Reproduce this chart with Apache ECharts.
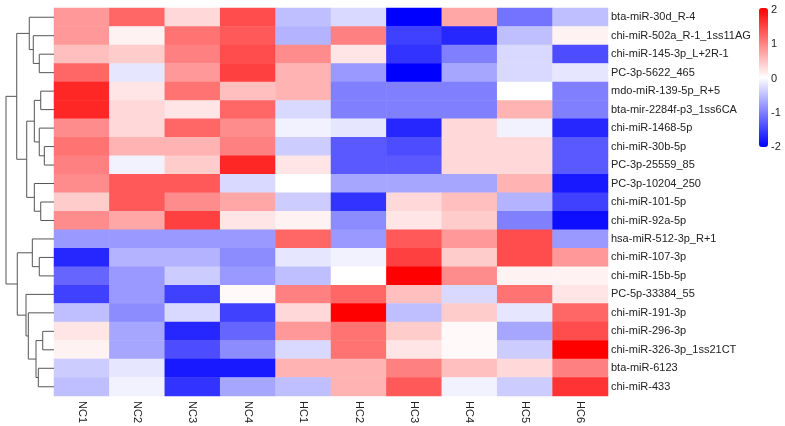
<!DOCTYPE html>
<html>
<head>
<meta charset="utf-8">
<script src="https://cdn.jsdelivr.net/npm/echarts@6/dist/echarts.min.js"></script>
<style>
  html, body { margin: 0; padding: 0; background: #fff; }
  #main { width: 785px; height: 426px; }
</style>
</head>
<body>
<div id="main"></div>
<script>
// samples (columns)
var samples = ['NC1', 'NC2', 'NC3', 'NC4', 'HC1', 'HC2', 'HC3', 'HC4', 'HC5', 'HC6'];

// miRNAs (rows, in dendrogram order, top to bottom)
var mirnas = [
    'bta-miR-30d_R-4', 'chi-miR-502a_R-1_1ss11AG', 'chi-miR-145-3p_L+2R-1', 'PC-3p-5622_465',
    'mdo-miR-139-5p_R+5', 'bta-mir-2284f-p3_1ss6CA', 'chi-miR-1468-5p', 'chi-miR-30b-5p',
    'PC-3p-25559_85', 'PC-3p-10204_250', 'chi-miR-101-5p', 'chi-miR-92a-5p',
    'hsa-miR-512-3p_R+1', 'chi-miR-107-3p', 'chi-miR-15b-5p', 'PC-5p-33384_55',
    'chi-miR-191-3p', 'chi-miR-296-3p', 'chi-miR-326-3p_1ss21CT', 'bta-miR-6123', 'chi-miR-433'
];

// row-scaled expression (z-score), one row per miRNA
var zscores = [
    [ 0.8,  1.2,  0.3,  1.4, -0.5, -0.3, -2.0,  0.7, -1.1, -0.5],
    [ 0.8,  0.1,  1.1,  1.3, -0.6,  1.0, -1.5, -1.7, -0.5,  0.1],
    [ 0.5,  0.4,  1.0,  1.4,  0.9,  0.2, -1.6, -1.0, -0.3, -1.4],
    [ 1.2, -0.2,  0.8,  1.5,  0.6, -0.8, -2.0, -0.7, -0.3, -0.2],
    [ 1.7,  0.2,  1.1,  0.5,  0.6, -1.0, -1.0, -1.0,  0.0, -1.0],
    [ 1.7,  0.3,  0.2,  1.2, -0.3, -1.0, -1.0, -1.0,  0.6, -1.0],
    [ 0.9,  0.3,  1.2,  0.9, -0.1, -0.2, -1.7,  0.3, -0.1, -1.7],
    [ 1.1,  0.6,  0.6,  1.0, -0.4, -1.3, -1.4,  0.3,  0.3, -1.3],
    [ 1.0, -0.1,  0.4,  1.7,  0.2, -1.3, -1.3,  0.3,  0.3, -1.3],
    [ 0.9,  1.3,  1.3, -0.3,  0.0, -0.7, -0.7, -0.7,  0.6, -1.8],
    [ 0.4,  1.3,  0.9,  0.7, -0.4, -1.6,  0.3,  0.5, -0.6, -1.5],
    [ 0.9,  0.7,  1.5,  0.2,  0.1, -0.9,  0.2,  0.4, -1.0, -1.9],
    [-0.8, -0.8, -0.8, -0.8,  1.2, -0.8,  1.3,  0.8,  1.4, -0.8],
    [-1.7, -0.6, -0.6, -0.9, -0.2, -0.1,  1.5,  0.4,  1.4,  0.8],
    [-1.2, -0.8, -0.4, -0.8, -0.5,  0.0,  2.0,  0.9,  0.1,  0.1],
    [-1.5, -0.8, -1.5,  0.05, 1.0,  1.2,  0.5, -0.3,  1.1,  0.2],
    [-0.5, -0.9, -0.3, -1.5,  0.3,  2.0, -0.5,  0.4, -0.2,  1.2],
    [ 0.2, -0.7, -1.7, -1.2,  0.8,  1.1,  0.4,  0.05, -0.7, 1.4],
    [ 0.1, -0.7, -1.4, -0.9, -0.3,  1.1,  0.2,  0.05, -0.4, 2.0],
    [-0.4, -0.2, -1.8, -1.8,  0.6,  0.6,  1.0,  0.5,  0.3,  1.0],
    [-0.5, -0.1, -1.6, -0.7, -0.5,  0.6,  1.3, -0.1, -0.4,  1.6]
];

// row clustering, hclust style: negative = leaf (1-based row), positive = earlier merge
var merges = [
    [-3, -4, 1.84], [-2, 1, 2.59], [-1, 2, 3.09],
    [-5, -6, 1.66], [-8, -9, 1.21], [-7, 5, 1.84], [4, 6, 2.46],
    [-11, -12, 1.66], [-10, 8, 2.46], [7, 9, 3.41], [3, 10, 4.66],
    [-14, -15, 1.84], [-13, 12, 2.71],
    [-18, -19, 1.41], [-20, -21, 1.96], [14, 15, 2.25], [-17, 16, 3.21], [-16, 17, 3.5],
    [13, 18, 4.59], [11, 19, 6.0]
];

// colour key ticks
var keyTicks = [-2, -1, 0, 1, 2];

// heatmap data
var heatData = [];
for (var r = 0; r < zscores.length; r++) {
    for (var c = 0; c < samples.length; c++) {
        heatData.push([c, r, zscores[r][c]]);
    }
}

// dendrogram segments
var nodes = [];
function nodePos(id) {
    if (id < 0) return [0, -id - 1 + 0.5];
    return nodes[id - 1];
}
var dendroLines = [];
merges.forEach(function (m) {
    var a = nodePos(m[0]), b = nodePos(m[1]), h = m[2];
    dendroLines.push({ coords: [[a[0], a[1]], [h, a[1]], [h, b[1]], [b[0], b[1]]] });
    nodes.push([h, (a[1] + b[1]) / 2]);
});

var labelFont = 'Liberation Sans, Arial, Helvetica, sans-serif';
var myChart = echarts.init(document.getElementById('main'));
myChart.setOption({
    animation: false,
    grid: [
        { left: 54, top: 8, width: 554, height: 388 },
        { left: 0, top: 8, width: 54, height: 388 },
        { left: 766, top: 10, width: 1, height: 137 }
    ],
    xAxis: [
        {
            type: 'category', data: samples, gridIndex: 0,
            axisLine: { show: false }, axisTick: { show: false },
            axisLabel: { rotate: -90, margin: 5, fontSize: 11, color: '#222', fontFamily: labelFont },
            splitArea: { show: false }
        },
        { type: 'value', gridIndex: 1, inverse: true, min: 0, max: 6.75, show: false },
        { type: 'value', gridIndex: 2, show: false }
    ],
    yAxis: [
        {
            type: 'category', data: mirnas, gridIndex: 0, inverse: true, position: 'right',
            axisLine: { show: false }, axisTick: { show: false },
            axisLabel: { margin: 3, fontSize: 11, color: '#222', fontFamily: labelFont },
            splitArea: { show: false }
        },
        { type: 'value', gridIndex: 1, inverse: false, min: 0, max: 21, show: false, inverse: true },
        {
            type: 'value', gridIndex: 2, min: keyTicks[0], max: keyTicks[keyTicks.length - 1],
            interval: 1, position: 'right',
            axisLine: { show: false }, axisTick: { show: false }, splitLine: { show: false },
            axisLabel: { margin: 4, fontSize: 11, color: '#222', fontFamily: labelFont }
        }
    ],
    visualMap: {
        type: 'continuous', seriesIndex: 0, min: -2, max: 2,
        calculable: false, orient: 'vertical', left: 759, top: 8,
        itemWidth: 9, itemHeight: 139, padding: 0, text: null, showLabel: false,
        inRange: { color: ['#0000FF', '#FFFFFF', '#FF0000'] }
    },
    series: [
        {
            type: 'heatmap', data: heatData, xAxisIndex: 0, yAxisIndex: 0,
            itemStyle: { borderWidth: 0 }, emphasis: { disabled: true }
        },
        {
            type: 'lines', coordinateSystem: 'cartesian2d', polyline: true,
            xAxisIndex: 1, yAxisIndex: 1, data: dendroLines, silent: true,
            lineStyle: { color: '#555', width: 1, opacity: 1 }
        }
    ]
});
</script>
</body>
</html>
